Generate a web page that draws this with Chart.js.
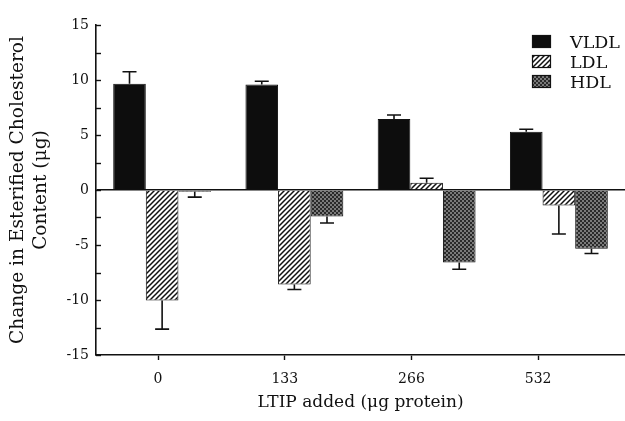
<!DOCTYPE html>
<html>
<head>
<meta charset="utf-8">
<script src="https://cdn.jsdelivr.net/npm/chart.js@4.4.0/dist/chart.umd.min.js"></script>
<style>
html,body{margin:0;padding:0;background:#fff;}
canvas{display:block;}
</style>
</head>
<body>
<canvas id="c" width="625" height="421"></canvas>
<script>
// ---- data ----
const categories = ['0', '133', '266', '532'];
const seriesNames = ['VLDL', 'LDL', 'HDL'];
const vldl = [9.65, 9.6, 6.45, 5.3];
const ldl = [-10.05, -8.6, 0.65, -1.4];
const hdl = [-0.15, -2.4, -6.6, -5.35];
const vldlErr = [1.1, 0.28, 0.37, 0.22];
const ldlErr = [2.6, 0.45, 0.42, 2.6];
const hdlErr = [0.5, 0.6, 0.6, 0.42];
const yTicks = [-15, -10, -5, 0, 5, 10, 15];

const INK = '#111';
const FONT = "'DejaVu Serif', 'Liberation Serif', serif";

function hatchPattern() {
  const s = 5;
  const c = document.createElement('canvas');
  c.width = s; c.height = s;
  const g = c.getContext('2d');
  g.fillStyle = '#fff'; g.fillRect(0, 0, s, s);
  g.strokeStyle = '#111'; g.lineWidth = 1.5;
  g.beginPath();
  g.moveTo(-1, s + 1); g.lineTo(s + 1, -1);
  g.moveTo(-1, 1); g.lineTo(1, -1);
  g.moveTo(s - 1, s + 1); g.lineTo(s + 1, s - 1);
  g.stroke();
  return g.createPattern(c, 'repeat');
}
function dotPattern() {
  const c = document.createElement('canvas');
  c.width = 4; c.height = 4;
  const g = c.getContext('2d');
  g.fillStyle = '#7a7a7a'; g.fillRect(0, 0, 4, 4);
  g.fillStyle = '#2a2a2a';
  g.fillRect(0, 0, 2, 2); g.fillRect(2, 2, 2, 2);
  return g.createPattern(c, 'repeat');
}
const fills = ['#0d0d0d', hatchPattern(), dotPattern()];
const errs = [vldlErr, ldlErr, hdlErr];

const errorBars = {
  id: 'errorBars',
  afterDatasetsDraw(chart) {
    const ctx = chart.ctx, ys = chart.scales.y;
    ctx.save();
    ctx.strokeStyle = INK; ctx.lineWidth = 1.6;
    chart.data.datasets.forEach((ds, i) => {
      const meta = chart.getDatasetMeta(i);
      meta.data.forEach((el, j) => {
        const v = ds.data[j], e = errs[i][j];
        const end = ys.getPixelForValue(v + (v >= 0 ? e : -e));
        ctx.beginPath();
        ctx.moveTo(el.x, el.y); ctx.lineTo(el.x, end);
        ctx.moveTo(el.x - 7, end); ctx.lineTo(el.x + 7, end);
        ctx.stroke();
      });
    });
    ctx.restore();
  }
};

const innerTicks = {
  id: 'innerTicks',
  afterDraw(chart) {
    const ctx = chart.ctx, ys = chart.scales.y, a = chart.chartArea;
    ctx.save();
    ctx.strokeStyle = INK; ctx.lineWidth = 1.4;
    ys.ticks.forEach(t => {
      const p = Math.round(ys.getPixelForValue(t.value)) + 0.5;
      ctx.beginPath(); ctx.moveTo(a.left, p); ctx.lineTo(a.left + 5, p); ctx.stroke();
    });
    ctx.restore();
  }
};

const customLegend = {
  id: 'customLegend',
  afterDraw(chart) {
    const ctx = chart.ctx;
    ctx.save();
    ctx.font = "17.5px " + FONT;
    ctx.textBaseline = 'middle';
    ctx.textAlign = 'left';
    chart.data.datasets.forEach((ds, i) => {
      const cy = 42 + i * 20;
      ctx.fillStyle = ds.backgroundColor;
      ctx.fillRect(532, cy - 7, 19, 13);
      ctx.strokeStyle = INK; ctx.lineWidth = 1.2;
      ctx.strokeRect(532.5, cy - 6.5, 18, 12);
      ctx.fillStyle = INK;
      ctx.fillText(ds.label, 570, cy + 1);
    });
    ctx.restore();
  }
};

const values = [vldl, ldl, hdl];
new Chart(document.getElementById('c'), {
  type: 'bar',
  data: {
    labels: categories,
    datasets: seriesNames.map((n, i) => ({
      label: n,
      data: values[i],
      backgroundColor: fills[i],
      borderColor: INK,
      borderWidth: 1,
      xAxisID: 'x',
      yAxisID: 'y',
      categoryPercentage: 0.74,
      barPercentage: 1.0
    }))
  },
  options: {
    responsive: false,
    animation: false,
    layout: { padding: { top: 25, right: 0, bottom: 0, left: 0 } },
    plugins: { legend: { display: false }, tooltip: { enabled: false } },
    scales: {
      x: { type: 'category', offset: true, display: false },
      xt: {
        type: 'linear', position: 'bottom', min: -0.49, max: 3.686,
        offset: false, bounds: 'data',
        afterBuildTicks(s) { s.ticks = categories.map((_, i) => ({ value: i })); },
        afterFit(s) { s.height = 66; },
        ticks: {
          autoSkip: false, maxRotation: 0, padding: 11, color: INK,
          font: { family: FONT, size: 14 },
          callback: (v, i) => categories[i]
        },
        grid: { offset: false, drawOnChartArea: false, drawTicks: true, tickLength: 5, tickColor: INK, tickWidth: 1.4 },
        border: { display: true, color: INK, width: 1.6 },
        title: {
          display: true, text: 'LTIP added (μg protein)', color: INK,
          font: { family: FONT, size: 17 }, padding: { top: 0, bottom: 8 }
        }
      },
      y: {
        min: -15, max: 15,
        afterFit(s) { s.width = 96; },
        ticks: {
          stepSize: 2.5, autoSkip: false, padding: 7, color: INK,
          font: { family: FONT, size: 14 },
          callback: v => (yTicks.includes(v) ? String(v) : '')
        },
        grid: {
          drawTicks: false,
          color: c => (c.tick && c.tick.value === 0 ? INK : 'rgba(0,0,0,0)'),
          lineWidth: 1.4
        },
        border: { display: true, color: INK, width: 1.6 },
        title: {
          display: true, text: ['Change in Esterified Cholesterol', 'Content (μg)'], color: INK,
          font: { family: FONT, size: 18.6, lineHeight: 1.24 }, padding: { top: 7, bottom: 0 }
        }
      }
    }
  },
  plugins: [errorBars, innerTicks, customLegend]
});
</script>
</body>
</html>
